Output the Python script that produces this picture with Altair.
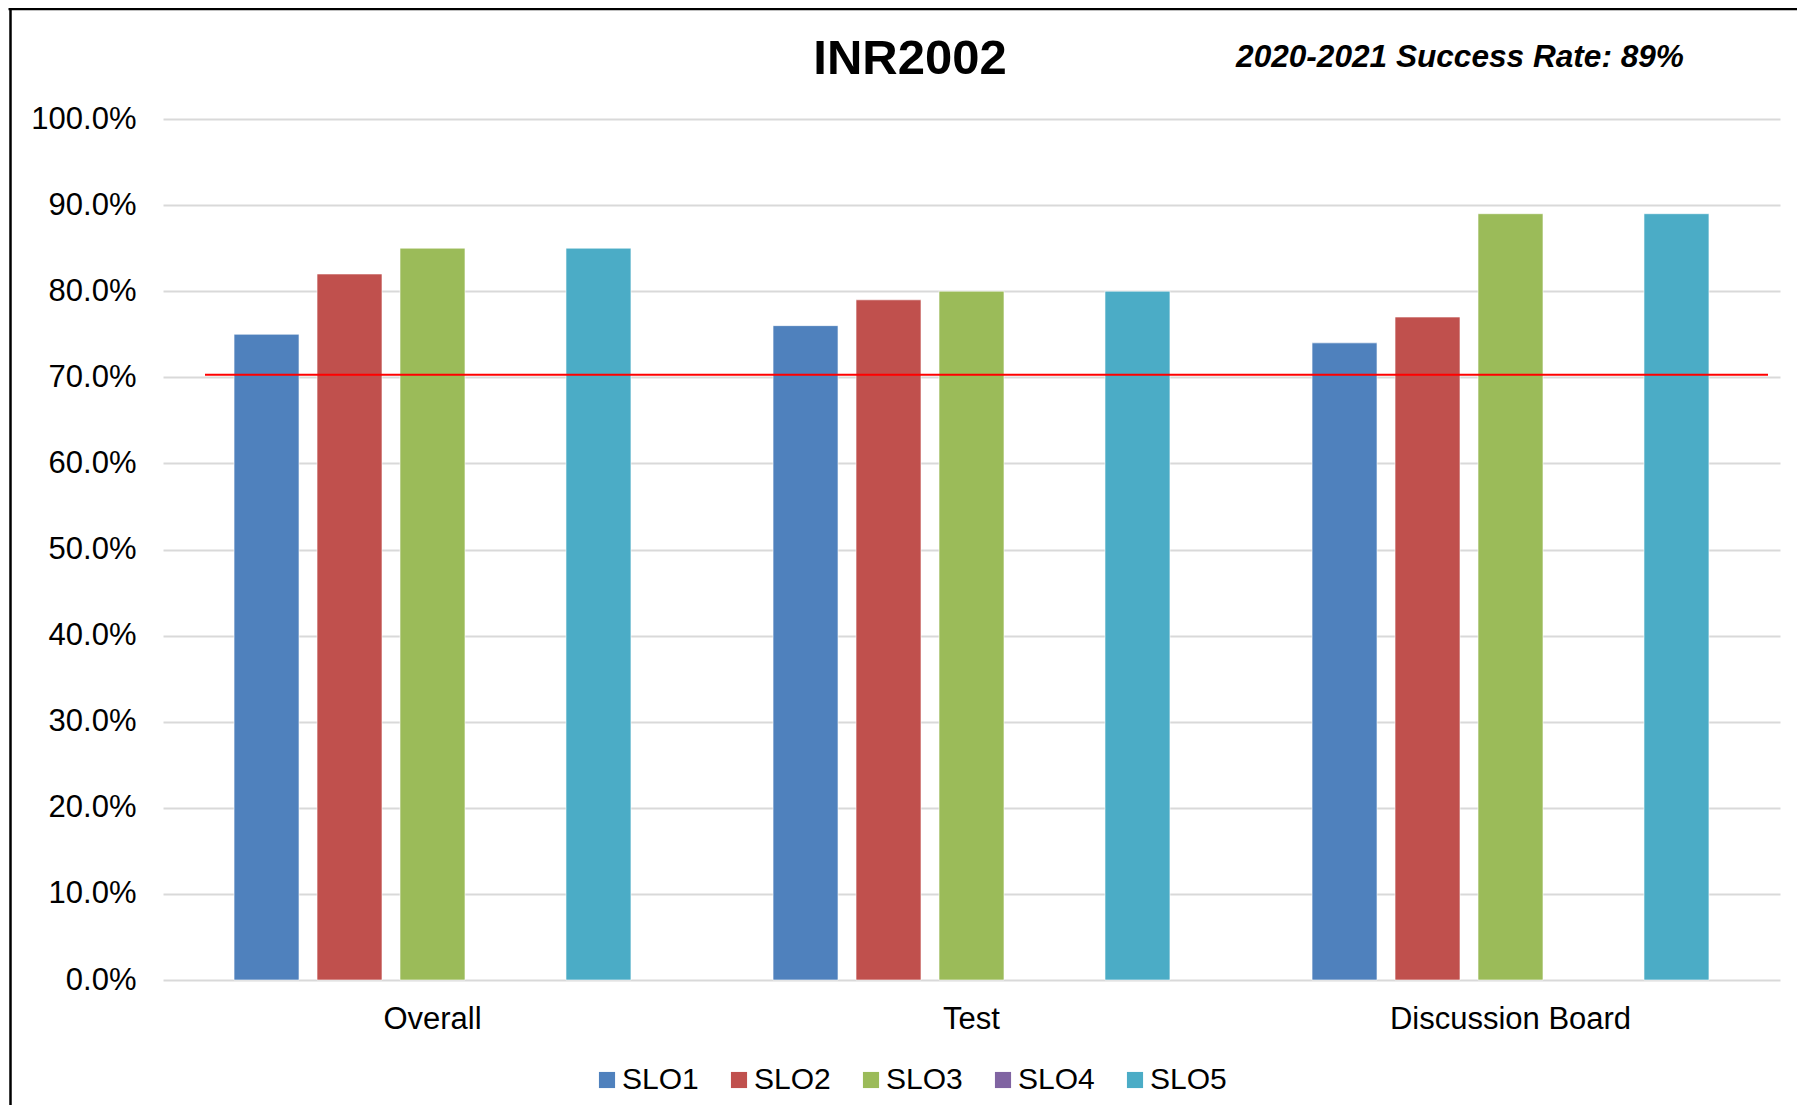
import altair as alt
import pandas as pd

# ---- data ----
categories = ["Overall", "Test", "Discussion Board"]
series = ["SLO1", "SLO2", "SLO3", "SLO4", "SLO5"]
slo1 = [0.75, 0.76, 0.74]
slo2 = [0.82, 0.79, 0.77]
slo3 = [0.85, 0.80, 0.89]
slo4 = [None, None, None]
slo5 = [0.85, 0.80, 0.89]
colors = ["#4F81BD", "#C0504D", "#9BBB59", "#8064A2", "#4BACC6"]
y_ticks = [0.0, 0.1, 0.2, 0.3, 0.4, 0.5, 0.6, 0.7, 0.8, 0.9, 1.0]
target = [0.703]
title_text = ["INR2002"]
subtitle_text = ["2020-2021 Success Rate: 89%"]

rows = []
for s, vals in zip(series, [slo1, slo2, slo3, slo4, slo5]):
    for c, v in zip(categories, vals):
        if v is not None:
            rows.append({"category": c, "series": s, "value": v})
df = pd.DataFrame(rows)

FONT = "Liberation Sans"
W, H = 1617, 861

bars = alt.Chart(df).mark_bar(stroke="#FFFFFF", strokeWidth=1, strokeOpacity=0.6).encode(
    x=alt.X("category:N", sort=categories,
            scale=alt.Scale(paddingInner=0, paddingOuter=0),
            axis=alt.Axis(title=None, labelAngle=0, ticks=False, domain=False,
                          labelFontSize=31, labelFont=FONT, labelColor="#000000",
                          labelPadding=24, labelLimit=0, grid=False)),
    xOffset=alt.XOffset("series:N", sort=series,
                        scale=alt.Scale(domain=series, paddingInner=0.217, paddingOuter=0.856)),
    y=alt.Y("value:Q", scale=alt.Scale(domain=[0, 1], nice=False),
            axis=alt.Axis(title=None, values=y_ticks, format=".1%", ticks=False, domain=False,
                          labelFontSize=31, labelFont=FONT, labelColor="#000000",
                          labelPadding=27, grid=True, gridColor="#D9D9D9", gridWidth=2)),
    color=alt.Color("series:N", sort=series,
                    scale=alt.Scale(domain=series, range=colors),
                    legend=alt.Legend(title=None, orient="none", direction="horizontal",
                                      legendX=429, legendY=946,
                                      symbolType="square", symbolSize=260,
                                      symbolStrokeWidth=0, labelFontSize=30,
                                      labelFont=FONT, labelColor="#000000",
                                      labelOffset=0, columnPadding=25)),
)

rule = alt.Chart(pd.DataFrame({"target": target})).mark_rule(
    color="#FF0000", strokeWidth=2
).encode(
    y="target:Q",
    x=alt.value(42),
    x2=alt.value(1605),
)

title = alt.Chart(pd.DataFrame({"t": title_text})).mark_text(
    font=FONT, fontSize=49, fontWeight="bold",
    align="center", baseline="alphabetic", color="#000000"
).encode(
    text="t:N",
    x=alt.value(747),
    y=alt.value(-45),
)

subtitle = alt.Chart(pd.DataFrame({"t": subtitle_text})).mark_text(
    font=FONT, fontSize=31.6, fontWeight="bold", fontStyle="italic",
    align="center", baseline="alphabetic", color="#000000"
).encode(
    text="t:N",
    x=alt.value(1297),
    y=alt.value(-52),
)

border_left = alt.Chart(pd.DataFrame({"t": [0]})).mark_rule(
    color="#000000", strokeWidth=2.5
).encode(x=alt.value(-152.5), y=alt.value(-112), y2=alt.value(1000))

border_top = alt.Chart(pd.DataFrame({"t": [0]})).mark_rule(
    color="#000000", strokeWidth=2.5
).encode(x=alt.value(-154.5), x2=alt.value(1640), y=alt.value(-110))

chart = alt.layer(bars, rule, title, subtitle, border_left, border_top).properties(
    width=W,
    height=H,
    background="#FFFFFF",
    autosize=alt.AutoSizeParams(type="none"),
    padding={"left": 155, "top": 111, "right": 17, "bottom": 125},
).configure_view(strokeWidth=0, stroke="transparent")

chart.save("out.html", embed_options={"renderer": "svg", "actions": False})
